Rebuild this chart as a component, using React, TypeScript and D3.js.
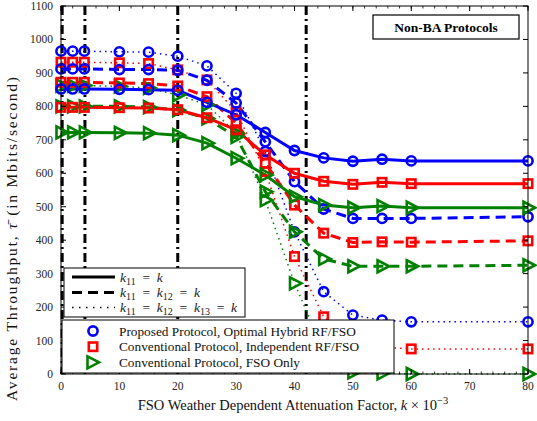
import React from "react";
import * as d3 from "d3";

const ks = [0, 2, 4, 10, 15, 20, 25, 30, 35, 40, 45, 50, 55, 60, 80];

const proposedSolid = [852, 852, 852, 851, 850, 848, 812, 775, 722, 668, 646, 636, 642, 637, 637];
const proposedDashed = [912, 912, 912, 910, 910, 908, 878, 810, 694, 575, 493, 465, 465, 465, 470];
const proposedDotted = [965, 965, 965, 963, 962, 950, 921, 839, 665, 425, 246, 176, 161, 156, 156];

const independentSolid = [797, 797, 797, 796, 795, 790, 766, 730, 655, 600, 576, 567, 573, 569, 569];
const independentDashed = [872, 872, 872, 870, 868, 861, 829, 750, 630, 505, 421, 393, 395, 394, 398];
const independentDotted = [932, 932, 932, 930, 928, 909, 879, 784, 605, 351, 171, 100, 80, 75, 75];

const fsoSolid = [722, 722, 722, 721, 720, 714, 690, 645, 595, 530, 505, 497, 502, 497, 497];
const fsoDashed = [800, 800, 800, 800, 798, 789, 764, 709, 545, 425, 344, 322, 322, 322, 325];
const fsoDotted = [862, 862, 862, 860, 855, 834, 805, 720, 520, 271, 70, 5, 2, 0, 0];

const thresholds = [0.2, 4.1, 20, 42];

const yTicks = [0, 100, 200, 300, 400, 500, 600, 700, 800, 900, 1000, 1100];
const xTicks = [0, 10, 20, 30, 40, 50, 60, 70, 80];
const xMinor = d3.range(0, 81, 2);

const protocolNames = [
  "Proposed Protocol, Optimal Hybrid RF/FSO",
  "Conventional Protocol, Independent RF/FSO",
  "Conventional Protocol, FSO Only",
];

const BLUE = "#0000ff";
const RED = "#ff0000";
const GREEN = "#008000";

const W = 537;
const H = 421;
const L = 61;
const R = 528;
const T = 6;
const B = 374;

const FONT = "'Liberation Serif', 'Times New Roman', serif";

type Style = "solid" | "dashed" | "dotted";
type Mk = "circle" | "square" | "triangle";

const styleAttr = (s: Style) => {
  if (s === "solid") return { strokeWidth: 3, dash: undefined as string | undefined };
  if (s === "dashed") return { strokeWidth: 3, dash: "10,6" };
  return { strokeWidth: 1.5, dash: "1.5,4" };
};

function Marker({ kind, x, y, color }: { kind: Mk; x: number; y: number; color: string }) {
  if (kind === "circle")
    return <circle cx={x} cy={y} r={4.6} fill="none" stroke={color} strokeWidth={2.6} />;
  if (kind === "square")
    return <rect x={x - 4.2} y={y - 4.2} width={8.4} height={8.4} fill="none" stroke={color} strokeWidth={2.6} />;
  return (
    <polygon
      points={`${x - 4.5},${y - 6} ${x + 7},${y} ${x - 4.5},${y + 6}`}
      fill="none"
      stroke={color}
      strokeWidth={2.6}
      strokeLinejoin="miter"
    />
  );
}

const EQ = "\u2002=\u2002";

export default function App() {
  const x = d3.scaleLinear().domain([0, 80]).range([L, R]);
  const y = d3.scaleLinear().domain([0, 1100]).range([B, T]);

  const series = [
    { v: proposedDotted, c: BLUE, m: "circle" as Mk, s: "dotted" as Style },
    { v: independentDotted, c: RED, m: "square" as Mk, s: "dotted" as Style },
    { v: fsoDotted, c: GREEN, m: "triangle" as Mk, s: "dotted" as Style },
    { v: proposedDashed, c: BLUE, m: "circle" as Mk, s: "dashed" as Style },
    { v: independentDashed, c: RED, m: "square" as Mk, s: "dashed" as Style },
    { v: fsoDashed, c: GREEN, m: "triangle" as Mk, s: "dashed" as Style },
    { v: proposedSolid, c: BLUE, m: "circle" as Mk, s: "solid" as Style },
    { v: independentSolid, c: RED, m: "square" as Mk, s: "solid" as Style },
    { v: fsoSolid, c: GREEN, m: "triangle" as Mk, s: "solid" as Style },
  ];

  const line = d3
    .line<number>()
    .x((_, i) => x(ks[i]))
    .y((d) => y(d));

  const lg1 = { x0: 64, y0: 268, x1: 245, y1: 317 };
  const lg2 = { x0: 62, y0: 320, x1: 394, y1: 373 };
  const lineStyles: Style[] = ["solid", "dashed", "dotted"];
  const lineRows = [277, 292.5, 307.5];
  const markRows = [331, 346.7, 362.3];
  const markKinds: Mk[] = ["circle", "square", "triangle"];
  const markColors = [BLUE, RED, GREEN];

  const sub = (t: string) => (
    <tspan fontSize={10} dy={3} fontStyle="normal">
      {t}
    </tspan>
  );
  const eq = () => (
    <tspan dy={-3} fontStyle="normal">
      {EQ}
    </tspan>
  );

  return (
    <svg
      width={W}
      height={H}
      style={{ position: "absolute", left: 0, top: 0, background: "#fff" }}
      fontFamily={FONT}
    >
      <rect x={0} y={0} width={W} height={H} fill="#fff" />
      {thresholds.map((t, i) => (
        <line
          key={"th" + i}
          x1={x(t)}
          x2={x(t)}
          y1={T}
          y2={B}
          stroke="#000"
          strokeWidth={3}
          strokeDasharray="9,4,2,4"
        />
      ))}
      {series.map((s, i) => {
        const st = styleAttr(s.s);
        return (
          <path
            key={"l" + i}
            d={line(s.v) || ""}
            fill="none"
            stroke={s.c}
            strokeWidth={st.strokeWidth}
            strokeDasharray={st.dash}
          />
        );
      })}
      {series.map((s, i) => (
        <g key={"m" + i}>
          {s.v.map((d, j) => (
            <Marker key={j} kind={s.m} x={x(ks[j])} y={y(d)} color={s.c} />
          ))}
        </g>
      ))}
      <rect x={L} y={T} width={R - L} height={B - T} fill="none" stroke="#000" strokeWidth={1} />
      {yTicks.map((t) => (
        <g key={"yt" + t}>
          <line x1={L} x2={L + 5} y1={y(t)} y2={y(t)} stroke="#000" strokeWidth={1} />
          <line x1={R} x2={R - 5} y1={y(t)} y2={y(t)} stroke="#000" strokeWidth={1} />
          <text x={L - 8} y={y(t) + 4} fontSize={11.5} textAnchor="end" fill="#222">
            {t}
          </text>
        </g>
      ))}
      {xMinor.map((t) => (
        <g key={"xm" + t}>
          <line x1={x(t)} x2={x(t)} y1={B} y2={B - 2.5} stroke="#000" strokeWidth={0.8} />
          <line x1={x(t)} x2={x(t)} y1={T} y2={T + 2.5} stroke="#000" strokeWidth={0.8} />
        </g>
      ))}
      {xTicks.map((t) => (
        <g key={"xt" + t}>
          <line x1={x(t)} x2={x(t)} y1={B} y2={B - 5} stroke="#000" strokeWidth={1} />
          <line x1={x(t)} x2={x(t)} y1={T} y2={T + 5} stroke="#000" strokeWidth={1} />
          <text x={x(t)} y={390} fontSize={11.5} textAnchor="middle" fill="#222">
            {t}
          </text>
        </g>
      ))}
      <text x={293} y={410} fontSize={14.5} textAnchor="middle" fill="#111">
        FSO Weather Dependent Attenuation Factor, <tspan fontStyle="italic">k</tspan> × 10
        <tspan fontSize={10.5} dy={-6}>
          −3
        </tspan>
      </text>
      <text
        transform={`translate(17,239) rotate(-90)`}
        fontSize={15.5}
        textAnchor="middle"
        fill="#111"
        textLength={324}
        lengthAdjust="spacing"
      >
        Average Throughput, <tspan fontStyle="italic">τ̄</tspan> (in Mbits/second)
      </text>
      <rect x={373} y={15} width={146} height={24} fill="#fff" stroke="#000" strokeWidth={1.2} />
      <text x={446} y={31.5} fontSize={13.5} fontWeight="bold" textAnchor="middle">
        Non-BA Protocols
      </text>
      <rect
        x={lg1.x0}
        y={lg1.y0}
        width={lg1.x1 - lg1.x0}
        height={lg1.y1 - lg1.y0}
        fill="#fff"
        stroke="#000"
        strokeWidth={1}
      />
      {lineStyles.map((s, i) => {
        const st = styleAttr(s);
        return (
          <line
            key={"ll" + i}
            x1={72}
            x2={115}
            y1={lineRows[i]}
            y2={lineRows[i]}
            stroke="#000"
            strokeWidth={st.strokeWidth}
            strokeDasharray={s === "dotted" ? "1.5,5.5" : st.dash}
          />
        );
      })}
      <text x={120} y={lineRows[0] + 4.5} fontSize={13.5} fontStyle="italic" fill="#222">
        k{sub("11")}
        {eq()}k
      </text>
      <text x={120} y={lineRows[1] + 4.5} fontSize={13.5} fontStyle="italic" fill="#222">
        k{sub("11")}
        {eq()}k{sub("12")}
        {eq()}k
      </text>
      <text x={120} y={lineRows[2] + 4.5} fontSize={13.5} fontStyle="italic" fill="#222">
        k{sub("11")}
        {eq()}k{sub("12")}
        {eq()}k{sub("13")}
        {eq()}k
      </text>
      <rect
        x={lg2.x0}
        y={lg2.y0}
        width={lg2.x1 - lg2.x0}
        height={lg2.y1 - lg2.y0}
        fill="#fff"
        stroke="#000"
        strokeWidth={1}
      />
      {protocolNames.map((n, i) => (
        <g key={"p" + i}>
          <Marker kind={markKinds[i]} x={i === 2 ? 92 : 93} y={markRows[i]} color={markColors[i]} />
          <text x={119} y={markRows[i] + 4.5} fontSize={13.3} fill="#111">
            {n}
          </text>
        </g>
      ))}
    </svg>
  );
}
